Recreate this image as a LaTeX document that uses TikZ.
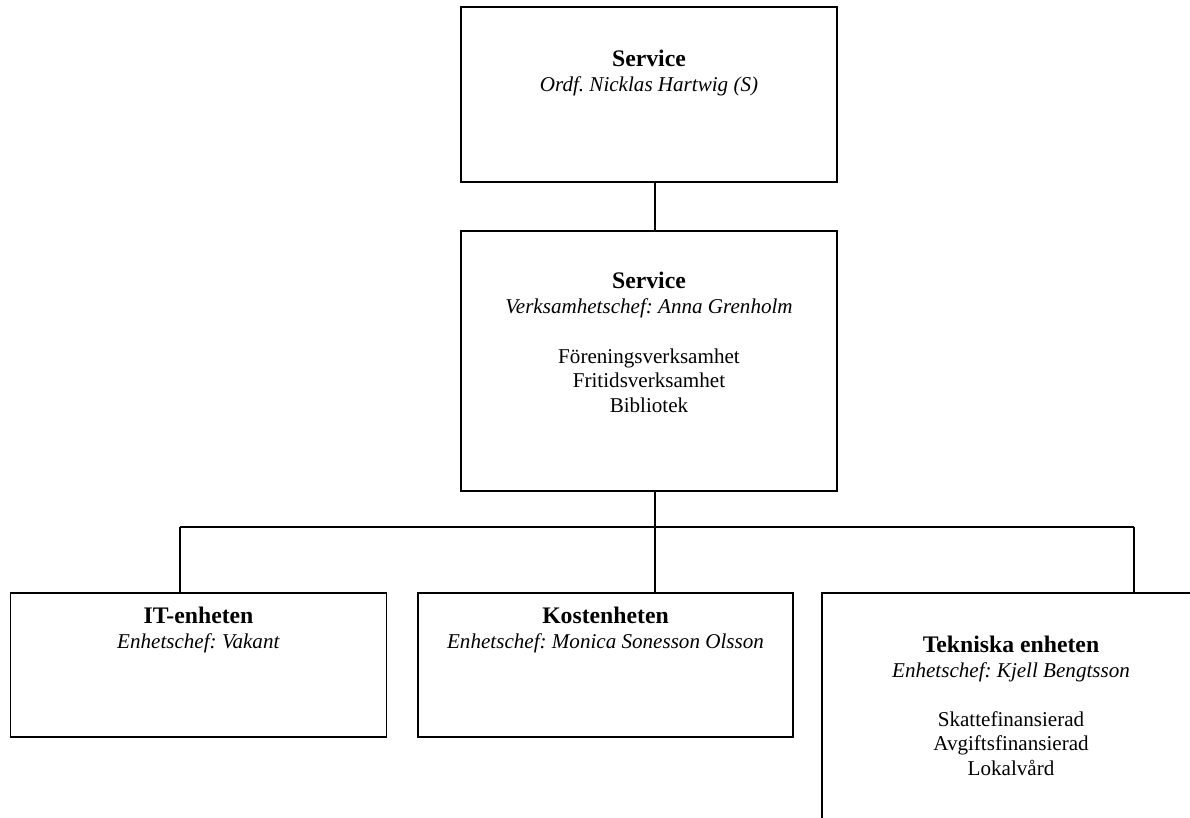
\documentclass[tikz,border=0pt]{standalone}
\usepackage{fontspec}
\setmainfont{Liberation Serif}
\frenchspacing
\usepackage{tikz}
\usetikzlibrary{calc}
\tikzstyle{orgbox} = [rectangle,
minimum width=7.52cm,
inner sep=0pt,
line width=0.8pt,
draw=black,
fill=white]
\tikzstyle{lbl} = [align=center,
inner sep=0pt,
anchor=base,
font=\fontsize{12pt}{13.9pt}\selectfont]
\tikzstyle{line} = [line width=0.8pt]
\newcommand{\unitname}[1]{{\fontsize{13.5pt}{14pt}\selectfont\bfseries #1}}

\begin{document}
\begin{tikzpicture}[x=0.02cm, y=-0.02cm]
    \useasboundingbox (0,0) rectangle (1190,818);

    % Boxes
    \node (svc) [orgbox, minimum height=3.5cm] at (649,94.5) {};
    \node (adm) [orgbox, minimum height=5.2cm] at (649,361) {};
    \node (it) [orgbox, minimum height=2.88cm] at (198.5,665) {};
    \node (kost) [orgbox, minimum width=7.5cm, minimum height=2.88cm] at (605.5,665) {};
    \node (tek) [orgbox, minimum width=7.56cm, minimum height=5.2cm] at (1011,723) {};

    % Texts (placed at the baseline of their last line)
    \node (svclbl) [lbl] at (649,91) {\unitname{Service}\\ \textit{Ordf. Nicklas Hartwig (S)}};
    \node (admlbl) [lbl] at (649,412) {\unitname{Service}\\ \textit{Verksamhetschef: Anna Grenholm}\\[14.5pt]
        Föreningsverksamhet\\ Fritidsverksamhet\\ Bibliotek};
    \node (itlbl) [lbl] at (198.5,648) {\unitname{IT-enheten}\\ \textit{Enhetschef: Vakant}};
    \node (kostlbl) [lbl] at (605.5,648) {\unitname{Kostenheten}\\ \textit{Enhetschef: Monica Sonesson Olsson}};
    \node (teklbl) [lbl] at (1011,775) {\unitname{Tekniska enheten}\\ \textit{Enhetschef: Kjell Bengtsson}\\[13.9pt]
        Skattefinansierad\\ Avgiftsfinansierad\\ Lokalvård};

    % Lines
    \coordinate (trunk) at (655,527);
    \coordinate (itj) at (180,527);
    \coordinate (tekj) at (1134,527);
    \draw [line] (trunk |- svc.south) -- (trunk |- adm.north);
    \draw [line] (trunk |- adm.south) -- (trunk);
    \draw [line] (itj) -- (tekj);
    \draw [line] (itj) -- (itj |- it.north);
    \draw [line] (trunk) -- (trunk |- kost.north);
    \draw [line] (tekj) -- (tekj |- tek.north);
\end{tikzpicture}
\end{document}
